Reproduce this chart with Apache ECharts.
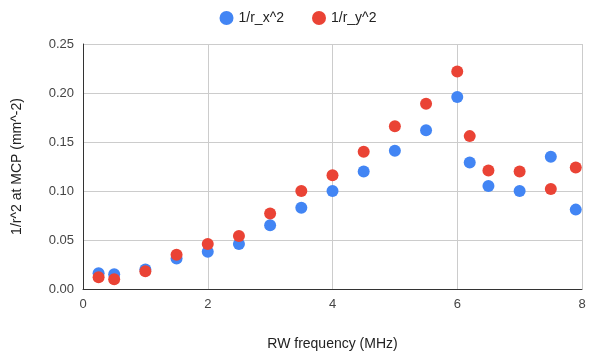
<!DOCTYPE html>
<html><head><meta charset="utf-8">
<script src="https://cdn.jsdelivr.net/npm/echarts@6/dist/echarts.min.js"></script>
<style>html,body{margin:0;padding:0;background:#fff}#c{width:596px;height:362px}</style>
</head><body><div id="c"></div>
<script>
const seriesNames = ['1/r_x^2', '1/r_y^2'];
const freq = [0.25, 0.5, 1, 1.5, 2, 2.5, 3, 3.5, 4, 4.5, 5, 5.5, 6, 6.2, 6.5, 7, 7.5, 7.9];
const rx = [0.016, 0.015, 0.020, 0.031, 0.038, 0.046, 0.065, 0.083, 0.100, 0.120, 0.141, 0.162, 0.196, 0.129, 0.105, 0.100, 0.135, 0.081];
const ry = [0.012, 0.010, 0.018, 0.035, 0.046, 0.054, 0.077, 0.100, 0.116, 0.140, 0.166, 0.189, 0.222, 0.156, 0.121, 0.120, 0.102, 0.124];
const font = 'Liberation Sans, Arial, sans-serif';
const chart = echarts.init(document.getElementById('c'), null, {renderer: 'canvas'});
chart.setOption({
  animation: false,
  textStyle: {fontFamily: font},
  legend: {
    top: 6, left: 'center', itemGap: 28, itemWidth: 14, itemHeight: 14,
    icon: 'circle',
    textStyle: {fontFamily: font, fontSize: 14, color: '#222'},
    data: seriesNames
  },
  grid: {left: 83, right: 14, top: 44, bottom: 73},
  xAxis: {
    type: 'value', min: 0, max: 8, interval: 2,
    name: 'RW frequency (MHz)', nameLocation: 'middle', nameGap: 48,
    nameTextStyle: {fontFamily: font, fontSize: 14, color: '#222'},
    axisLine: {show: true, lineStyle: {color: '#333'}},
    axisTick: {show: false},
    axisLabel: {fontFamily: font, fontSize: 13, color: '#444', margin: 9},
    splitLine: {show: true, lineStyle: {color: '#ccc'}}
  },
  yAxis: {
    type: 'value', min: 0, max: 0.25, interval: 0.05,
    name: '1/r^2 at MCP (mm^-2)', nameLocation: 'middle', nameGap: 59,
    nameTextStyle: {fontFamily: font, fontSize: 14, color: '#222'},
    axisLine: {show: true, lineStyle: {color: '#333'}},
    axisTick: {show: false},
    axisLabel: {fontFamily: font, fontSize: 13, color: '#444', margin: 9, formatter: v => v.toFixed(2)},
    splitLine: {show: true, lineStyle: {color: '#ccc'}}
  },
  series: [
    {name: seriesNames[0], type: 'scatter', symbolSize: 12, itemStyle: {color: '#4285F4', opacity: 1},
     data: freq.map((f, i) => [f, rx[i]])},
    {name: seriesNames[1], type: 'scatter', symbolSize: 12, itemStyle: {color: '#EA4335', opacity: 1},
     data: freq.map((f, i) => [f, ry[i]])}
  ]
});
</script></body></html>
